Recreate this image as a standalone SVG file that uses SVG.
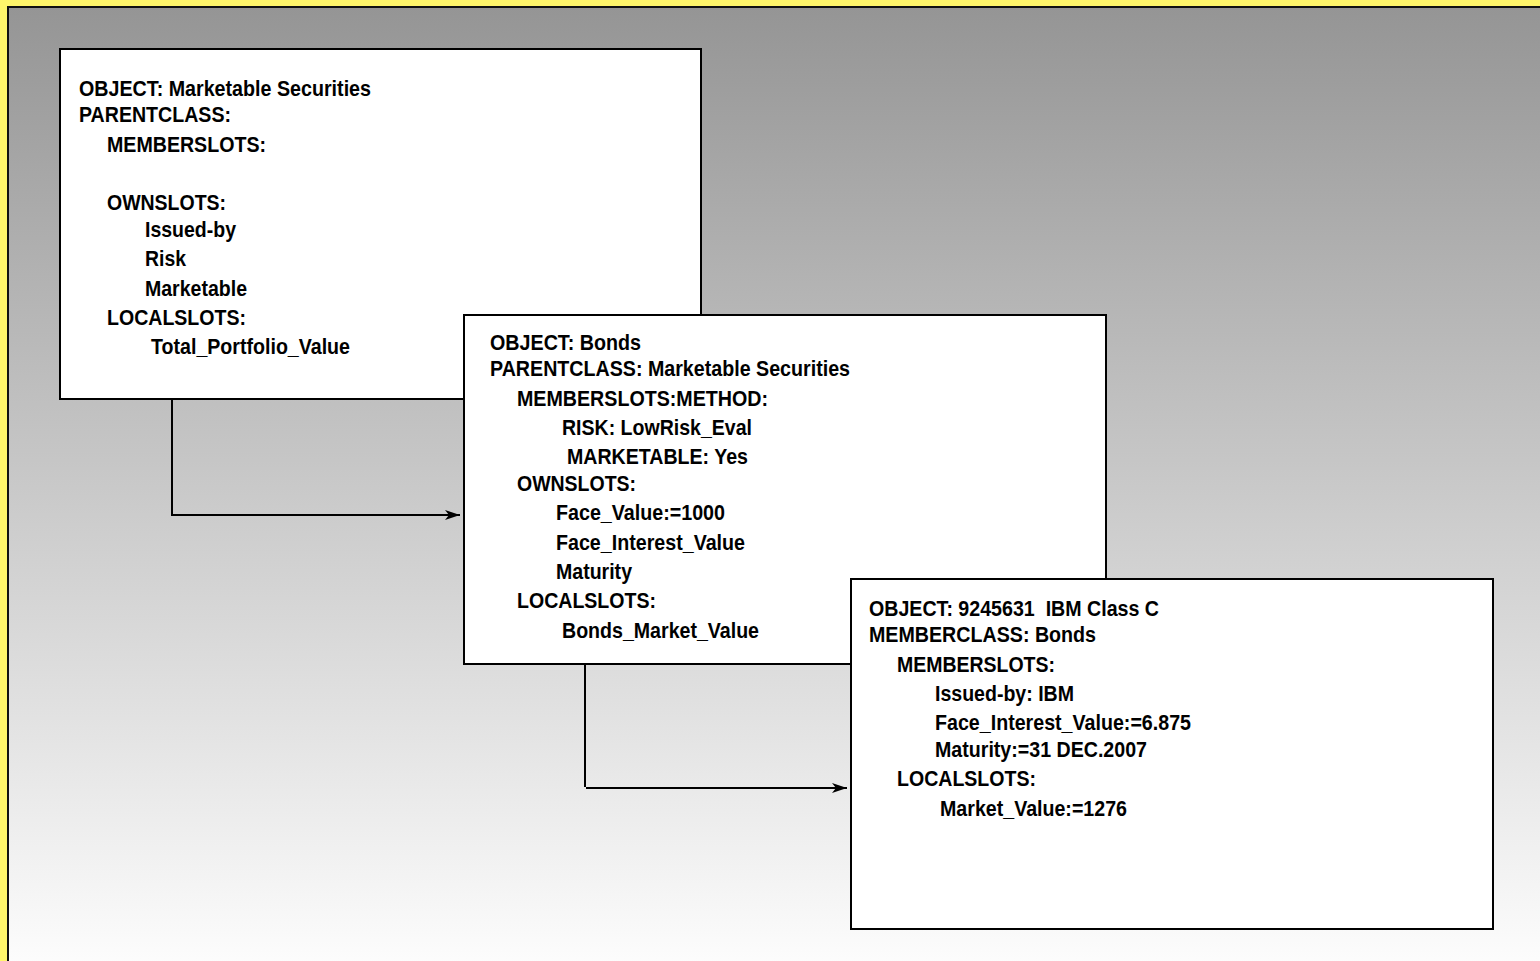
<svg xmlns="http://www.w3.org/2000/svg" width="1540" height="961" viewBox="0 0 1540 961">
  <defs>
    <linearGradient id="bg" x1="0" y1="0" x2="0" y2="1">
      <stop offset="0" stop-color="#959595"/>
      <stop offset="1" stop-color="#fdfdfd"/>
    </linearGradient>
    <marker id="arr" markerWidth="16" markerHeight="12" refX="15" refY="6" orient="auto" markerUnits="userSpaceOnUse">
      <path d="M0,1 L15,6 L0,11 L4,6 Z" fill="#000"/>
    </marker>
    <style>
      .box { fill: #ffffff; stroke: #000000; stroke-width: 2; }
      .t { font-family: "Liberation Sans Narrow", "Arial Narrow", "Liberation Sans", Arial, sans-serif; font-weight: bold; font-size: 21.5px; fill: #000; }
      .con { fill: none; stroke: #000; stroke-width: 2; }
    </style>
  </defs>
  <rect x="0" y="0" width="1540" height="961" fill="#fff66b"/>
  <rect x="8" y="7" width="1540" height="961" fill="url(#bg)" stroke="#111" stroke-width="2"/>

  <g id="node-marketable-securities">
    <rect class="box" x="60" y="49" width="641" height="350"/>
    <text class="t" x="79" y="96" textLength="292" lengthAdjust="spacingAndGlyphs">OBJECT: Marketable Securities</text>
    <text class="t" x="79" y="122" textLength="152" lengthAdjust="spacingAndGlyphs">PARENTCLASS:</text>
    <text class="t" x="107" y="152" textLength="159" lengthAdjust="spacingAndGlyphs">MEMBERSLOTS:</text>
    <text class="t" x="107" y="210" textLength="119" lengthAdjust="spacingAndGlyphs">OWNSLOTS:</text>
    <text class="t" x="145" y="237" textLength="91" lengthAdjust="spacingAndGlyphs">Issued-by</text>
    <text class="t" x="145" y="266" textLength="41" lengthAdjust="spacingAndGlyphs">Risk</text>
    <text class="t" x="145" y="296" textLength="102" lengthAdjust="spacingAndGlyphs">Marketable</text>
    <text class="t" x="107" y="325" textLength="139" lengthAdjust="spacingAndGlyphs">LOCALSLOTS:</text>
    <text class="t" x="151" y="354" textLength="199" lengthAdjust="spacingAndGlyphs">Total_Portfolio_Value</text>
  </g>

  <g id="connectors">
    <path class="con" d="M172,399 L172,515 L460,515" marker-end="url(#arr)"/>
    <path class="con" d="M585,664 L585,787"/>
    <path class="con" d="M586,788 L847,788" marker-end="url(#arr)"/>
  </g>

  <g id="node-bonds">
    <rect class="box" x="464" y="315" width="642" height="349"/>
    <text class="t" x="490" y="350" textLength="151" lengthAdjust="spacingAndGlyphs">OBJECT: Bonds</text>
    <text class="t" x="490" y="376" textLength="360" lengthAdjust="spacingAndGlyphs">PARENTCLASS: Marketable Securities</text>
    <text class="t" x="517" y="406" textLength="251" lengthAdjust="spacingAndGlyphs">MEMBERSLOTS:METHOD:</text>
    <text class="t" x="562" y="435" textLength="190" lengthAdjust="spacingAndGlyphs">RISK: LowRisk_Eval</text>
    <text class="t" x="567" y="464" textLength="181" lengthAdjust="spacingAndGlyphs">MARKETABLE: Yes</text>
    <text class="t" x="517" y="491" textLength="119" lengthAdjust="spacingAndGlyphs">OWNSLOTS:</text>
    <text class="t" x="556" y="520" textLength="169" lengthAdjust="spacingAndGlyphs">Face_Value:=1000</text>
    <text class="t" x="556" y="550" textLength="189" lengthAdjust="spacingAndGlyphs">Face_Interest_Value</text>
    <text class="t" x="556" y="579" textLength="76" lengthAdjust="spacingAndGlyphs">Maturity</text>
    <text class="t" x="517" y="608" textLength="139" lengthAdjust="spacingAndGlyphs">LOCALSLOTS:</text>
    <text class="t" x="562" y="638" textLength="197" lengthAdjust="spacingAndGlyphs">Bonds_Market_Value</text>
  </g>

  <g id="node-ibm-class-c">
    <rect class="box" x="851" y="579" width="642" height="350"/>
    <text class="t" x="869" y="616" textLength="290" lengthAdjust="spacingAndGlyphs" xml:space="preserve">OBJECT: 9245631  IBM Class C</text>
    <text class="t" x="869" y="642" textLength="227" lengthAdjust="spacingAndGlyphs">MEMBERCLASS: Bonds</text>
    <text class="t" x="897" y="672" textLength="158" lengthAdjust="spacingAndGlyphs">MEMBERSLOTS:</text>
    <text class="t" x="935" y="701" textLength="139" lengthAdjust="spacingAndGlyphs">Issued-by: IBM</text>
    <text class="t" x="935" y="730" textLength="256" lengthAdjust="spacingAndGlyphs">Face_Interest_Value:=6.875</text>
    <text class="t" x="935" y="757" textLength="212" lengthAdjust="spacingAndGlyphs">Maturity:=31 DEC.2007</text>
    <text class="t" x="897" y="786" textLength="139" lengthAdjust="spacingAndGlyphs">LOCALSLOTS:</text>
    <text class="t" x="940" y="816" textLength="187" lengthAdjust="spacingAndGlyphs">Market_Value:=1276</text>
  </g>
</svg>
